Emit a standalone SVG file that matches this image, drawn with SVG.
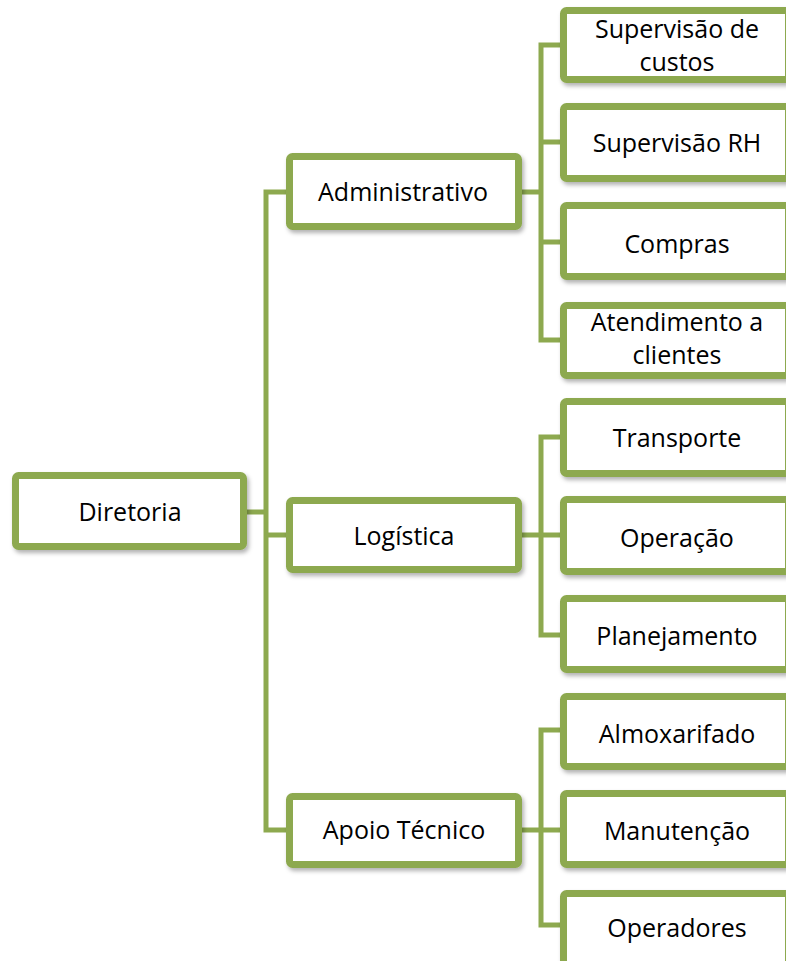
<svg xmlns="http://www.w3.org/2000/svg" width="786" height="961" viewBox="0 0 786 961">
<defs>
<filter id="sh" x="-10%" y="-20%" width="120%" height="150%">
<feDropShadow dx="2" dy="3" stdDeviation="2" flood-color="#000" flood-opacity="0.3"/>
</filter>
<style>
.box{fill:#fff;stroke:#8DA94F;stroke-width:7;filter:url(#sh)}
.ln{stroke:#8DA94F;stroke-width:5;fill:none;stroke-linecap:square}
text{font-family:"Open Sans","Noto Sans",sans-serif;font-size:25px;fill:#000;text-anchor:middle}
</style>
</defs>
<rect width="786" height="961" fill="#fff"/>
<g id="connectors">
<path class="ln" d="M266,192 V830 M247,512 H266 M266,192 H286 M266,535 H286 M266,830 H286"/>
<path class="ln" d="M541,45 V340 M522,192 H541 M541,45 H560 M541,142 H560 M541,242 H560 M541,340 H560"/>
<path class="ln" d="M541,437 V635 M522,535 H560 M541,437 H560 M541,635 H560"/>
<path class="ln" d="M541,730 V925 M522,830 H560 M541,730 H560 M541,925 H560"/>
</g>
<g id="diretoria"><rect class="box" x="15.5" y="475.5" width="228" height="71" rx="3"/><text x="130" y="521">Diretoria</text></g>
<g id="administrativo"><rect class="box" x="289.5" y="156.5" width="229" height="70" rx="3"/><text x="403" y="201">Administrativo</text></g>
<g id="logistica"><rect class="box" x="289.5" y="500.5" width="229" height="69" rx="3"/><text x="404" y="545">Logística</text></g>
<g id="apoio"><rect class="box" x="289.5" y="796.5" width="229" height="68" rx="3"/><text x="404" y="839">Apoio Técnico</text></g>
<g id="sup-custos"><rect class="box" x="563.5" y="10.5" width="225" height="69" rx="3"/><text x="677" y="38">Supervisão de</text><text x="677" y="71">custos</text></g>
<g id="sup-rh"><rect class="box" x="563.5" y="106.5" width="225" height="72" rx="3"/><text x="677" y="152">Supervisão RH</text></g>
<g id="compras"><rect class="box" x="563.5" y="205.5" width="225" height="71" rx="3"/><text x="677" y="253">Compras</text></g>
<g id="atendimento"><rect class="box" x="563.5" y="305.5" width="225" height="70" rx="3"/><text x="677" y="331">Atendimento a</text><text x="677" y="364">clientes</text></g>
<g id="transporte"><rect class="box" x="563.5" y="401.5" width="225" height="72" rx="3"/><text x="677" y="447">Transporte</text></g>
<g id="operacao"><rect class="box" x="563.5" y="499.5" width="225" height="72" rx="3"/><text x="677" y="547">Operação</text></g>
<g id="planejamento"><rect class="box" x="563.5" y="598.5" width="225" height="71" rx="3"/><text x="677" y="645">Planejamento</text></g>
<g id="almoxarifado"><rect class="box" x="563.5" y="696.5" width="225" height="70" rx="3"/><text x="677" y="743">Almoxarifado</text></g>
<g id="manutencao"><rect class="box" x="563.5" y="793.5" width="225" height="71" rx="3"/><text x="677" y="840">Manutenção</text></g>
<g id="operadores"><rect class="box" x="563.5" y="893.5" width="225" height="71" rx="3"/><text x="677" y="937">Operadores</text></g>
</svg>
